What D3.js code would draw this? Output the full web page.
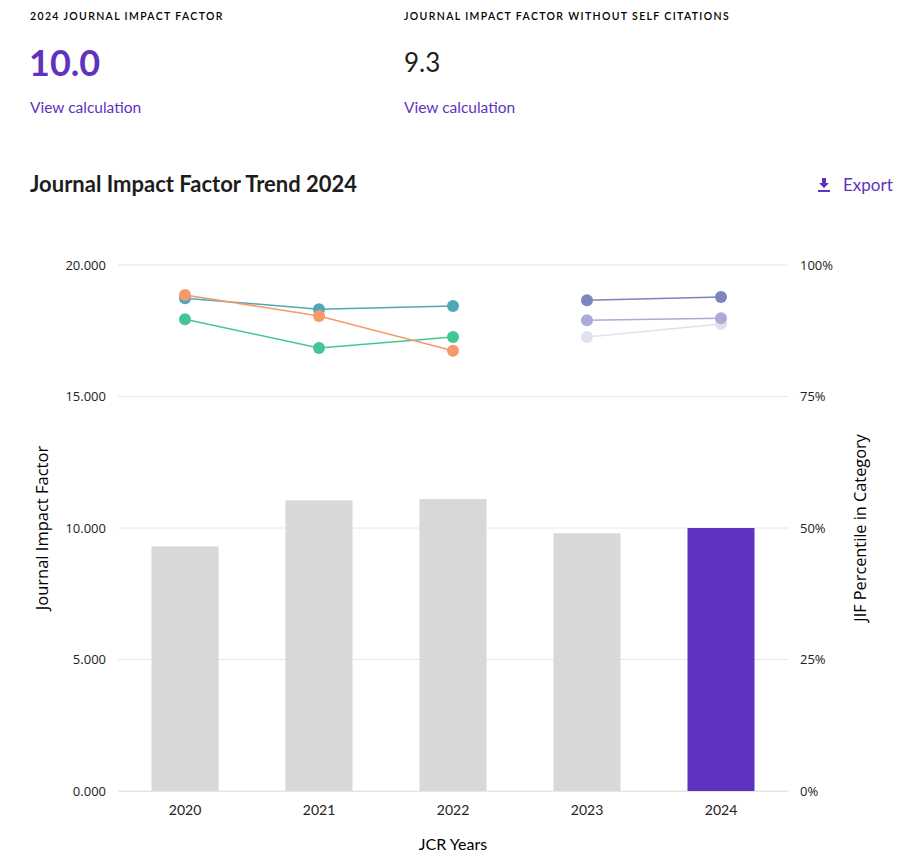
<!DOCTYPE html>
<html>
<head>
<meta charset="utf-8">
<script src="https://cdn.jsdelivr.net/npm/d3@7"></script>
<style>
  body { margin: 0; background: #fff; font-family: Lato, "Open Sans", sans-serif; color: #1d1d1d; }
  .metric-label { font-size: 10.5px; letter-spacing: 1.35px; font-weight: 600; }
  .metric-value { font-size: 36px; }
  .link { fill: #5e33bf; color: #5e33bf; font-size: 15.5px; }
  .grid line { stroke: #e6e6e6; }
  .tick text { font-family: "Open Sans", sans-serif; font-size: 13px; fill: #222; }
</style>
</head>
<body>
<div id="chart"></div>
<script>
var years = ['2020', '2021', '2022', '2023', '2024']
var jif = [9.3, 11.05, 11.1, 9.8, 10.0]
var barColors = ['#d8d8d8', '#d8d8d8', '#d8d8d8', '#d8d8d8', '#5e33bf']

// percentile series (2020-2022 and 2023-2024 categories)
var teal = [93.7, 91.6, 92.2, null, null]
var green = [89.7, 84.2, 86.3, null, null]
var orange = [94.3, 90.3, 83.7, null, null]
var darkBlue = [null, null, null, 93.3, 93.9]
var midBlue = [null, null, null, 89.5, 89.9]
var lightBlue = [null, null, null, 86.3, 88.8]

var leftTicks = [0, 5, 10, 15, 20]
var rightTicks = [0, 25, 50, 75, 100]

var series = [
  { values: lightBlue, color: '#e1e1ec' },
  { values: midBlue, color: '#a9acd6' },
  { values: darkBlue, color: '#7c85bd' },
  { values: green, color: '#43c594' },
  { values: teal, color: '#51a6b8' },
  { values: orange, color: '#f5996a' }
]

var width = 910
var height = 866

var svg = d3.select('#chart')
  .append('svg')
  .attr('width', width)
  .attr('height', height)

// header
svg.append('text').attr('class', 'metric-label').attr('x', 30).attr('y', 20).text('2024 JOURNAL IMPACT FACTOR')
svg.append('text').attr('class', 'metric-label').attr('x', 404).attr('y', 20).text('JOURNAL IMPACT FACTOR WITHOUT SELF CITATIONS')
svg.append('text').attr('class', 'metric-value').attr('x', 29).attr('y', 76)
  .attr('fill', '#5e33bf').attr('font-weight', 700).text('10.0')
svg.append('text').attr('x', 404).attr('y', 72)
  .style('font-size', '26px').attr('fill', '#1d1d1d').text('9.3')
svg.append('text').attr('class', 'link').attr('x', 30).attr('y', 113).text('View calculation')
svg.append('text').attr('class', 'link').attr('x', 404).attr('y', 113).text('View calculation')

svg.append('text').attr('x', 30).attr('y', 192)
  .attr('font-size', '22px').attr('font-weight', 700).attr('fill', '#1d1d1d')
  .text('Journal Impact Factor Trend 2024')

// export with download icon
var exp = svg.append('g').attr('transform', 'translate(818,178)')
exp.append('path').attr('d', 'M4,0 h4 v5 h3 l-5,5 l-5,-5 h3 z').attr('fill', '#5e33bf')
exp.append('rect').attr('x', 0).attr('y', 12).attr('width', 12).attr('height', 2).attr('fill', '#5e33bf')
svg.append('text').attr('class', 'link').attr('x', 843).attr('y', 191).style('font-size', '17px').text('Export')

// scales
var x = d3.scaleBand().domain(years).range([118, 788]).paddingInner(0.5).paddingOuter(0.25)
var y = d3.scaleLinear().domain([0, 20]).range([791, 265])
var yp = d3.scaleLinear().domain([0, 100]).range([791, 265])

// grid
var grid = svg.append('g').attr('class', 'grid')
grid.selectAll('line').data(leftTicks).join('line')
  .attr('x1', 118).attr('x2', 788)
  .attr('y1', d => y(d)).attr('y2', d => y(d))

// bars
svg.append('g').selectAll('rect').data(jif).join('rect')
  .attr('x', (d, i) => x(years[i]))
  .attr('y', d => y(d))
  .attr('width', x.bandwidth())
  .attr('height', d => y(0) - y(d))
  .attr('fill', (d, i) => barColors[i])

// axes
var leftAxis = d3.axisLeft(y).tickValues(leftTicks).tickFormat(d3.format('.3f')).tickSize(0).tickPadding(12)
svg.append('g').attr('transform', 'translate(118,0)').call(leftAxis).call(g => g.select('.domain').remove())

var rightAxis = d3.axisRight(yp).tickValues(rightTicks).tickFormat(d => d + '%').tickSize(0).tickPadding(12)
svg.append('g').attr('transform', 'translate(788,0)').call(rightAxis).call(g => g.select('.domain').remove())

var bottomAxis = d3.axisBottom(x).tickSize(0).tickPadding(14)
svg.append('g').attr('transform', 'translate(0,791)').call(bottomAxis)
  .call(g => g.select('.domain').attr('stroke', '#e6e6e6'))
  .call(g => g.selectAll('text').style('font-family', 'Lato, sans-serif').style('font-size', '14px'))

// axis titles
svg.append('text').attr('transform', 'translate(48,528) rotate(-90)')
  .attr('text-anchor', 'middle').attr('font-family', '"Open Sans", sans-serif').attr('font-size', '16.5px')
  .text('Journal Impact Factor')
svg.append('text').attr('transform', 'translate(866,528) rotate(-90)')
  .attr('text-anchor', 'middle').attr('font-family', '"Open Sans", sans-serif').attr('font-size', '16.3px')
  .text('JIF Percentile in Category')
svg.append('text').attr('x', 453).attr('y', 850)
  .attr('text-anchor', 'middle').attr('font-size', '16px')
  .text('JCR Years')

// percentile lines
var cx = d => x(d) + x.bandwidth() / 2
var line = d3.line()
  .defined(d => d.v != null)
  .x(d => cx(d.year))
  .y(d => yp(d.v))

series.forEach(function(s) {
  var pts = s.values.map((v, i) => ({ year: years[i], v: v }))
  var g = svg.append('g')
  g.append('path').datum(pts).attr('d', line)
    .attr('fill', 'none').attr('stroke', s.color).attr('stroke-width', 1.5)
  g.selectAll('circle').data(pts.filter(p => p.v != null)).join('circle')
    .attr('cx', p => cx(p.year)).attr('cy', p => yp(p.v))
    .attr('r', 6).attr('fill', s.color)
})
</script>
</body>
</html>
